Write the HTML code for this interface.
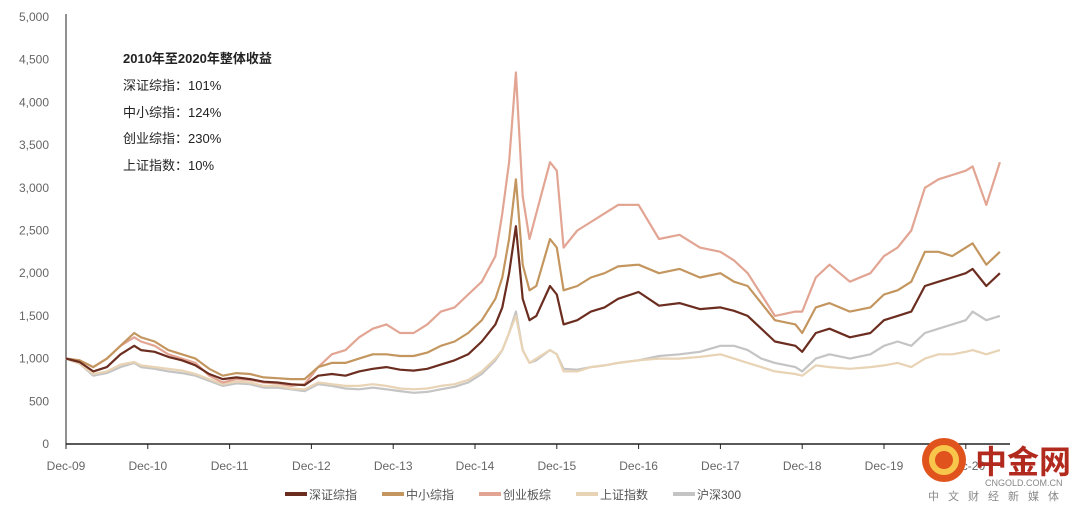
<!DOCTYPE html>
<html><head><meta charset="utf-8">
<style>
body{margin:0;background:#fff;}
svg text{font-family:"Liberation Sans","Noto Sans CJK SC",sans-serif;}
</style></head>
<body>
<svg id="chart" width="1080" height="510" viewBox="0 0 1080 510" xmlns="http://www.w3.org/2000/svg">
<g id="yaxis"></g>
<g id="xaxis"></g>
<g id="series"></g>
<g font-size="13" fill="#222">
<text x="123" y="63" font-weight="bold">2010年至2020年整体收益</text>
<text x="123" y="90">深证综指：101%</text>
<text x="123" y="117">中小综指：124%</text>
<text x="123" y="143">创业综指：230%</text>
<text x="123" y="170">上证指数：10%</text>
</g>
<g id="legend"></g>
<g>
<circle cx="944" cy="460" r="22" fill="#e0531d"/>
<circle cx="944" cy="460" r="12" fill="none" stroke="#f7c64a" stroke-width="6"/>
<text x="975" y="473" font-size="32" font-weight="bold" fill="#b22a1e">中金网</text>
<text x="985" y="486" font-size="9" fill="#888">CNGOLD.COM.CN</text>
<text x="928" y="500" font-size="11" fill="#888" letter-spacing="9">中文财经新媒体</text>
</g>
</svg>
<script>
const months=[0,2,4,6,8,10,11,13,15,17, 19,21,23,25,27,29,31,33,35,37, 39,41,43,45,47,49,51,53,55,57, 59,61,63,64,65,66,67,68,69,71, 72,73,75,77,79,81,84,87,90,93, 96,98,100,102,104,107,108,110,112,115, 118,120,122,124,126,128,130,132,133,135, 137];
const szzs=[1000,960,850,900,1050,1150,1100,1080,1020,980, 920,820,760,780,760,730,720,700,690,800, 820,800,850,880,900,870,860,880,930,980, 1050,1200,1400,1600,2000,2550,1700,1450,1500,1850, 1750,1400,1450,1550,1600,1700,1780,1620,1650,1580, 1600,1560,1500,1350,1200,1150,1080,1300,1350,1250, 1300,1450,1500,1550,1850,1900,1950,2000,2050,1850, 2000];
const zxzz=[1000,980,900,1000,1150,1300,1250,1200,1100,1050, 1000,880,800,830,820,780,770,760,760,900, 950,950,1000,1050,1050,1030,1030,1070,1150,1200, 1300,1450,1700,1950,2400,3100,2100,1800,1850,2400, 2300,1800,1850,1950,2000,2080,2100,2000,2050,1950, 2000,1900,1850,1650,1450,1400,1300,1600,1650,1550, 1600,1750,1800,1900,2250,2250,2200,2300,2350,2100, 2250];
const cybz=[1000,980,900,1000,1150,1250,1200,1150,1050,1000, 950,800,720,760,750,720,710,680,700,900, 1050,1100,1250,1350,1400,1300,1300,1400,1550,1600, 1750,1900,2200,2700,3300,4350,2900,2400,2700,3300, 3200,2300,2500,2600,2700,2800,2800,2400,2450,2300, 2250,2150,2000,1750,1500,1550,1550,1950,2100,1900, 2000,2200,2300,2500,3000,3100,3150,3200,3250,2800, 3300];
const shzs=[1000,940,820,850,930,960,920,900,880,860, 820,760,700,730,720,680,680,650,640,720, 700,680,680,700,680,650,640,650,680,700, 750,850,1000,1100,1300,1500,1100,950,1000,1100, 1050,850,850,900,920,950,980,1000,1000,1020, 1050,1000,950,900,850,820,800,920,900,880, 900,920,950,900,1000,1050,1050,1080,1100,1050, 1100];
const hs300=[1000,940,800,830,900,950,900,880,850,830, 800,740,680,710,700,660,660,640,620,700, 680,650,640,660,640,620,600,610,640,670, 720,820,980,1100,1300,1550,1100,950,980,1100, 1050,880,870,900,920,950,980,1030,1050,1080, 1150,1150,1100,1000,950,900,850,1000,1050,1000, 1050,1150,1200,1150,1300,1350,1400,1450,1550,1450, 1500];
const yTicks=[0,500,1000,1500,2000,2500,3000,3500,4000,4500,5000];
const xTickLabels=["Dec-09","Dec-10","Dec-11","Dec-12","Dec-13","Dec-14","Dec-15","Dec-16","Dec-17","Dec-18","Dec-19","Dec-20"];
const seriesNames=["深证综指","中小综指","创业板综","上证指数","沪深300"];

const NS="http://www.w3.org/2000/svg";
const X0=66,PXM=81.8/12,Y0=444,PXV=427/5000;
const x=m=>X0+m*PXM, y=v=>Y0-v*PXV;
function mk(tag,attrs,parent){const e=document.createElementNS(NS,tag);for(const k in attrs)e.setAttribute(k,attrs[k]);parent.appendChild(e);return e;}
const ya=document.getElementById('yaxis'),xa=document.getElementById('xaxis'),sg=document.getElementById('series'),lg=document.getElementById('legend');
yTicks.forEach(v=>{const t=mk('text',{x:49,y:y(v)+4,'text-anchor':'end','font-size':12,fill:'#666'},ya);t.textContent=v.toLocaleString('en-US');

});
const yl=mk('line',{x1:X0,y1:14,x2:X0,y2:Y0,stroke:'#222','stroke-width':1},ya);


const xl=mk('line',{x1:X0,y1:Y0,x2:1010,y2:Y0,stroke:'#222','stroke-width':1.5},xa);


xTickLabels.forEach((s,i)=>{const m=i*12;
const tk=mk('line',{x1:x(m),y1:Y0,x2:x(m),y2:Y0+5,stroke:'#222'},xa);


const t=mk('text',{x:x(m),y:Y0+26,'text-anchor':'middle','font-size':12,fill:'#666'},xa);t.textContent=s;

});
const colors=["#6b2d1f","#c4965f","#e3a593","#e8d3b5","#c4c4c4"];
const data=[szzs,zxzz,cybz,shzs,hs300];
[4,3,2,1,0].forEach(i=>{const d=months.map((m,j)=>(j?'L':'M')+x(m).toFixed(1)+','+y(data[i][j]).toFixed(1)).join('');
const p=mk('path',{d:d,fill:'none',stroke:colors[i],'stroke-width':2.2,'stroke-linejoin':'round'},sg);

});
let lx=285;
seriesNames.forEach((n,i)=>{
const l=mk('line',{x1:lx,y1:494,x2:lx+22,y2:494,stroke:colors[i],'stroke-width':4},lg);


const t=mk('text',{x:lx+24,y:499,'font-size':12,fill:'#555'},lg);t.textContent=n;


lx+= (i===4?0:97);});
</script>
</body></html>
